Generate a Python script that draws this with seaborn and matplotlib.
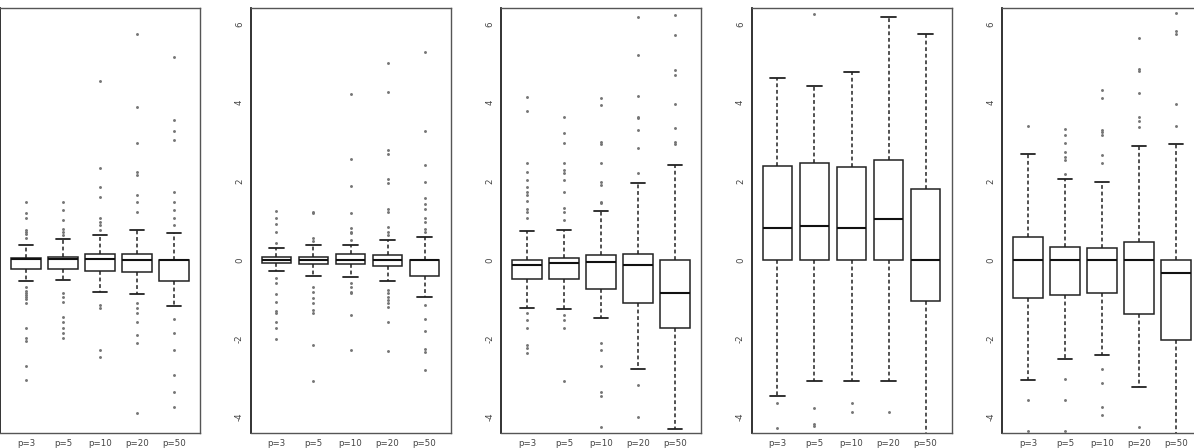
import numpy as np
import pandas as pd
import matplotlib
matplotlib.use("Agg")
import matplotlib.pyplot as plt
import seaborn as sns

categories = ["p=3", "p=5", "p=10", "p=20", "p=50"]
y_ticks = [-4, -2, 0, 2, 4, 6]

# Per panel, per category: lower whisker, Q1, median, Q3, upper whisker
panel1_lower = [-0.53, -0.51, -0.81, -0.87, -1.17]
panel1_q1 = [-0.24, -0.24, -0.27, -0.30, -0.53]
panel1_median = [0.02, 0.02, 0.02, 0.01, 0.0]
panel1_q3 = [0.06, 0.08, 0.15, 0.15, 0.01]
panel1_upper = [0.39, 0.53, 0.64, 0.76, 0.68]
panel1_outliers = [
    [1.47, 1.19, 1.08, 0.76, 0.70, 0.65, 0.57, -0.68, -0.80, -0.85, -0.90, -0.95,
     -1.00, -1.10, -1.74, -1.99, -2.05, -2.69, -3.05],
    [1.47, 1.27, 1.02, 0.80, 0.72, 0.64, -0.85, -0.93, -1.08, -1.44, -1.57, -1.74,
     -1.86, -1.99],
    [4.55, 2.35, 1.86, 1.61, 1.06, 0.97, 0.89, 0.76, -1.14, -1.23, -2.29, -2.46],
    [5.76, 3.90, 2.97, 2.25, 2.16, 1.65, 1.48, 1.23, -1.10, -1.23, -1.36, -1.57,
     -1.91, -2.12, -3.90],
    [5.17, 3.56, 3.28, 3.05, 1.74, 1.48, 1.27, 1.06, 0.89, -1.51, -1.85, -2.29,
     -2.92, -3.35, -3.73],
]

panel2_lower = [-0.27, -0.41, -0.44, -0.53, -0.93]
panel2_q1 = [-0.08, -0.11, -0.11, -0.15, -0.41]
panel2_median = [0.0, 0.0, 0.0, 0.0, 0.0]
panel2_q3 = [0.08, 0.08, 0.15, 0.13, 0.0]
panel2_upper = [0.31, 0.38, 0.38, 0.51, 0.58]
panel2_outliers = [
    [1.25, 1.06, 0.92, 0.72, 0.42, -0.47, -0.59, -0.86, -1.06, -1.31, -1.36, -1.57,
     -1.74, -2.01],
    [1.23, 1.19, 0.55, 0.47, -0.68, -0.81, -0.97, -1.10, -1.27, -1.36, -2.16, -3.09],
    [4.21, 2.58, 1.88, 1.19, 0.82, 0.72, 0.68, 0.51, -0.58, -0.68, -0.81, -0.85,
     -1.40, -2.29],
    [5.00, 4.28, 2.80, 2.69, 2.05, 1.95, 1.30, 1.23, 0.85, 0.72, 0.64, -0.76, -0.85,
     -0.93, -1.02, -1.10, -1.19, -1.57, -2.31],
    [5.30, 3.28, 2.42, 1.99, 1.58, 1.42, 1.29, 1.06, 0.97, 0.80, 0.72, -1.14, -1.51,
     -1.82, -2.27, -2.33, -2.80],
]

panel3_lower = [-1.23, -1.25, -1.48, -2.78, -4.31]
panel3_q1 = [-0.49, -0.49, -0.73, -1.10, -1.74]
panel3_median = [-0.14, -0.08, -0.04, -0.14, -0.83]
panel3_q3 = [0.0, 0.06, 0.13, 0.15, 0.0]
panel3_upper = [0.74, 0.75, 1.25, 1.95, 2.42]
panel3_outliers = [
    [4.15, 3.79, 2.46, 2.25, 2.03, 1.86, 1.74, 1.65, 1.50, 1.29, 1.23, 1.06, -1.36,
     -1.53, -1.74, -2.16, -2.25, -2.37],
    [3.64, 3.24, 2.97, 2.46, 2.29, 2.22, 2.03, 1.74, 1.31, 1.23, 1.02, -1.40, -1.53,
     -1.74, -3.09],
    [4.11, 3.94, 3.01, 2.95, 2.46, 1.99, 1.91, 1.48, 1.44, -2.12, -2.29, -2.69,
     -3.35, -3.46, -4.24],
    [6.17, 5.21, 4.17, 3.64, 3.60, 3.31, 2.86, 2.20, -3.18, -4.00],
    [6.23, 5.72, 4.83, 4.70, 3.98, 3.35, 3.01, 2.94],
]

panel4_lower = [-3.46, -3.09, -3.09, -3.09, -4.60]
panel4_q1 = [0.0, 0.0, 0.0, 0.0, -1.04]
panel4_median = [0.81, 0.86, 0.81, 1.04, 0.0]
panel4_q3 = [2.40, 2.46, 2.36, 2.54, 1.80]
panel4_upper = [4.64, 4.43, 4.79, 6.17, 5.74]
panel4_outliers = [
    [-3.64, -4.28],
    [6.25, -3.77, -4.17, -4.22],
    [-3.64, -3.88],
    [-3.88],
    [],
]

panel5_lower = [-3.05, -2.52, -2.42, -3.24, -4.60]
panel5_q1 = [-0.96, -0.89, -0.85, -1.37, -2.03]
panel5_median = [0.0, 0.0, 0.0, 0.0, -0.32]
panel5_q3 = [0.58, 0.32, 0.30, 0.45, 0.0]
panel5_upper = [2.69, 2.06, 1.99, 2.91, 2.95]
panel5_outliers = [
    [3.41, -3.56, -4.36],
    [3.32, 3.18, 2.97, 2.75, 2.63, 2.54, 2.19, -3.03, -3.56, -4.36],
    [4.32, 4.11, 3.31, 3.26, 3.18, 2.67, 2.46, -2.78, -3.14, -3.73, -3.94],
    [5.64, 4.87, 4.81, 4.25, 3.63, 3.54, 3.39, -4.24],
    [6.29, 5.83, 5.74, 3.98, 3.41],
]

panels = [
    (panel1_lower, panel1_q1, panel1_median, panel1_q3, panel1_upper, panel1_outliers),
    (panel2_lower, panel2_q1, panel2_median, panel2_q3, panel2_upper, panel2_outliers),
    (panel3_lower, panel3_q1, panel3_median, panel3_q3, panel3_upper, panel3_outliers),
    (panel4_lower, panel4_q1, panel4_median, panel4_q3, panel4_upper, panel4_outliers),
    (panel5_lower, panel5_q1, panel5_median, panel5_q3, panel5_upper, panel5_outliers),
]

sns.set_theme(style="white")
plt.rcParams["font.family"] = ["DejaVu Sans"]

W, H = 1194, 448
fig = plt.figure(figsize=(W / 100, H / 100), dpi=100)
lefts_px = [0, 250.5, 501, 751.5, 1002]
width_px = 200
top_px, bottom_px = 8, 433.3

for i, (lo, q1, med, q3, hi, outs) in enumerate(panels):
    ax = fig.add_axes([lefts_px[i] / W, 1 - bottom_px / H,
                       width_px / W, (bottom_px - top_px) / H])
    box_rows = []
    for c, cat in enumerate(categories):
        for v in (lo[c], q1[c], med[c], q3[c], hi[c]):
            box_rows.append((cat, v))
    box_df = pd.DataFrame(box_rows, columns=["group", "value"])
    out_rows = [(cat, v) for c, cat in enumerate(categories) for v in outs[c]]
    out_df = pd.DataFrame(out_rows, columns=["group", "value"])

    sns.boxplot(data=box_df, x="group", y="value", order=categories, ax=ax,
                whis=(0, 100), showfliers=False, width=0.8, color="white",
                saturation=1, linecolor="#222222", linewidth=1.1,
                whiskerprops={"linestyle": (0, (2.5, 1.8)), "linewidth": 1.1},
                medianprops={"linewidth": 1.5, "color": "#111111"},
                capprops={"linewidth": 1.3})
    if len(out_df):
        sns.stripplot(data=out_df, x="group", y="value", order=categories, ax=ax,
                      jitter=False, size=2.1, color="#757575", linewidth=0,
                      zorder=3)

    ax.set_xlim(-0.7, 4.7)
    ax.set_ylim(-4.41, 6.41)
    ax.set_yticks(y_ticks)
    ax.set_yticklabels([str(t) for t in y_ticks], rotation=90, va="center")
    ax.set_xlabel("")
    ax.set_ylabel("")
    ax.tick_params(axis="both", length=3.2, width=0.9, color="#333333",
                   labelsize=6.2, labelcolor="#444444", pad=0.8, direction="out")
    ax.tick_params(axis="y", pad=1.5)
    if i == 0:
        # the first panel's y-axis labels lie outside the visible area
        ax.tick_params(axis="y", labelleft=False, length=0)
    for s in ax.spines.values():
        s.set_color("#555555")
        s.set_linewidth(1.0)
    ax.spines["left"].set_color("#222222")
    ax.spines["left"].set_linewidth(1.3)
    ax.grid(False)

fig.savefig("out.png", dpi=100)
